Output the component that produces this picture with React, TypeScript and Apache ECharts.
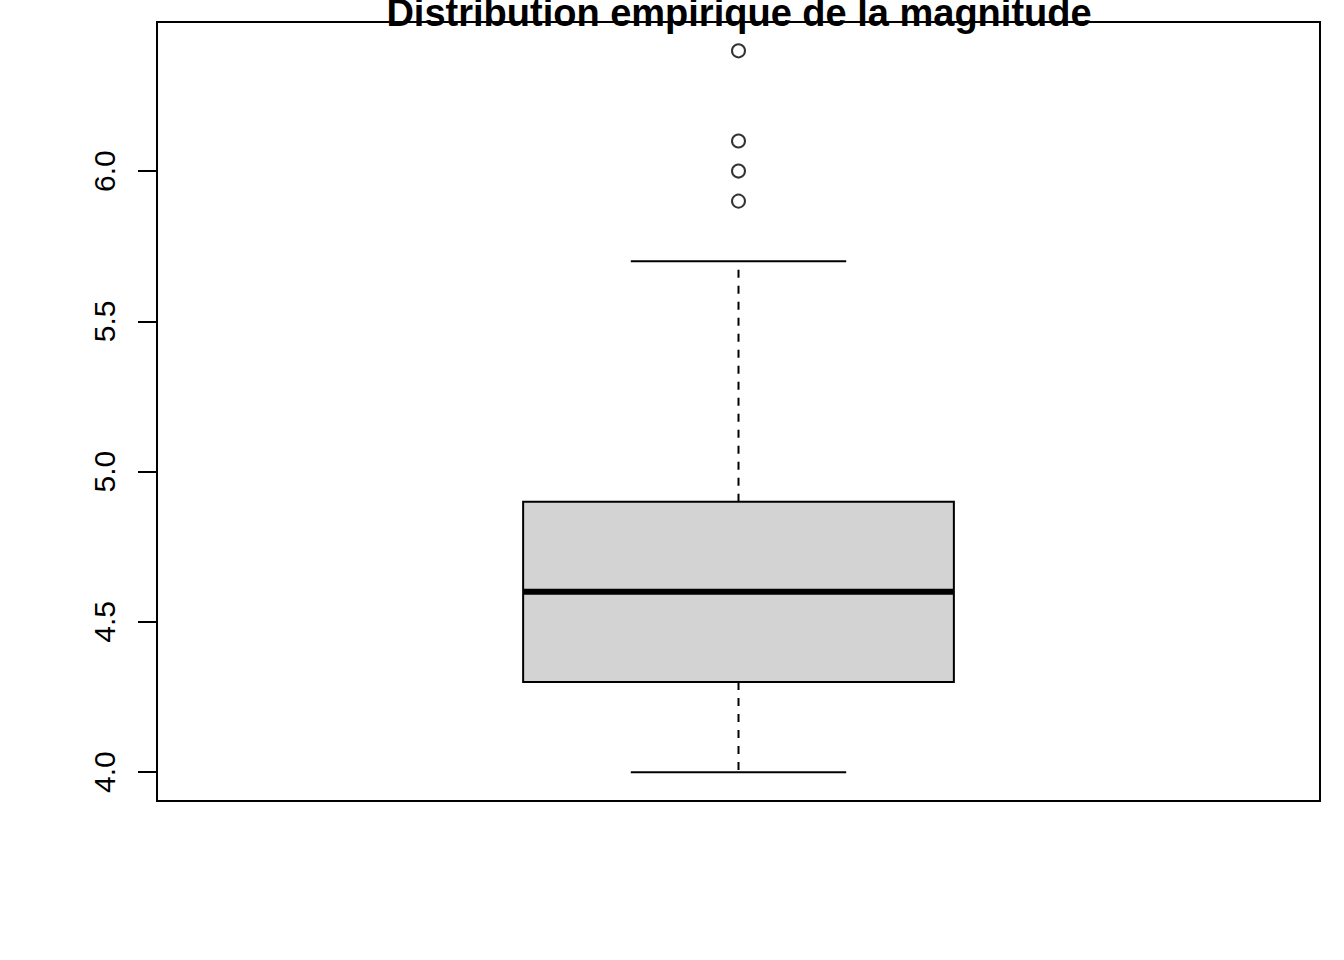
import React, { useEffect, useRef } from "react";
import * as echarts from "echarts";

const titleText = "Distribution empirique de la magnitude";
const boxStats = [[1, 4.0, 4.3, 4.6, 4.9, 5.7]]; // x, lowWhisker, Q1, median, Q3, highWhisker
const outliers = [5.9, 6.0, 6.1, 6.4];
const yTicks = [4.0, 4.5, 5.0, 5.5, 6.0];
const yMin = 3.904;
const yMax = 6.496;

export default function App() {
  const ref = useRef<HTMLDivElement>(null);
  useEffect(() => {
    document.body.style.margin = "0";
    const chart = echarts.init(ref.current!, null, { renderer: "svg" });
    const option: any = {
      animation: false,
      backgroundColor: "#ffffff",
      grid: {
        left: 157,
        top: 22,
        width: 1163,
        height: 779,
        show: true,
        borderColor: "#000",
        borderWidth: 2,
        backgroundColor: "transparent",
      },
      graphic: [
        {
          type: "text",
          x: 739,
          y: 13,
          style: {
            text: titleText,
            fontFamily: "Liberation Sans, Arial, sans-serif",
            fontWeight: "bold",
            fontSize: 38,
            fill: "#000",
            align: "center",
            verticalAlign: "middle",
          },
        },
      ],
      xAxis: {
        type: "value",
        min: 0.46,
        max: 1.54,
        show: false,
      },
      yAxis: {
        type: "value",
        min: yMin,
        max: yMax,
        axisLine: { show: false },
        splitLine: { show: false },
        axisTick: {
          show: true,
          customValues: yTicks,
          length: 19,
          lineStyle: { color: "#000", width: 2 },
        },
        axisLabel: {
          show: true,
          customValues: yTicks,
          rotate: 90,
          margin: 38,
          color: "#000",
          fontSize: 30,
          fontFamily: "Liberation Sans, Arial, sans-serif",
          formatter: (v: number) => v.toFixed(1),
        },
      },
      series: [
        {
          type: "custom",
          data: boxStats,
          clip: false,
          renderItem: (params: any, api: any) => {
            const x = api.value(0);
            const lo = api.coord([x, api.value(1)]);
            const q1 = api.coord([x, api.value(2)]);
            const med = api.coord([x, api.value(3)]);
            const q3 = api.coord([x, api.value(4)]);
            const hi = api.coord([x, api.value(5)]);
            const left = api.coord([x - 0.2, 0])[0];
            const right = api.coord([x + 0.2, 0])[0];
            const capL = api.coord([x - 0.1, 0])[0];
            const capR = api.coord([x + 0.1, 0])[0];
            const cx = lo[0];
            const dash = { stroke: "#000", lineWidth: 2, lineDash: [8, 8] };
            const solid = { stroke: "#000", lineWidth: 2 };
            return {
              type: "group",
              children: [
                { type: "line", shape: { x1: cx, y1: q3[1], x2: cx, y2: hi[1] }, style: dash },
                { type: "line", shape: { x1: cx, y1: q1[1], x2: cx, y2: lo[1] }, style: dash },
                { type: "line", shape: { x1: capL, y1: hi[1], x2: capR, y2: hi[1] }, style: solid },
                { type: "line", shape: { x1: capL, y1: lo[1], x2: capR, y2: lo[1] }, style: solid },
                {
                  type: "rect",
                  shape: { x: left, y: q3[1], width: right - left, height: q1[1] - q3[1] },
                  style: { fill: "#d3d3d3", stroke: "#000", lineWidth: 2 },
                },
                {
                  type: "line",
                  shape: { x1: left, y1: med[1], x2: right, y2: med[1] },
                  style: { stroke: "#000", lineWidth: 6 },
                },
              ],
            };
          },
        },
        {
          type: "scatter",
          data: outliers.map((v) => [1, v]),
          symbol: "circle",
          symbolSize: 13,
          itemStyle: { color: "transparent", borderColor: "#000", borderWidth: 2 },
        },
      ],
    };
    chart.setOption(option);
    return () => chart.dispose();
  }, []);
  return <div ref={ref} style={{ width: 1344, height: 960 }} />;
}
